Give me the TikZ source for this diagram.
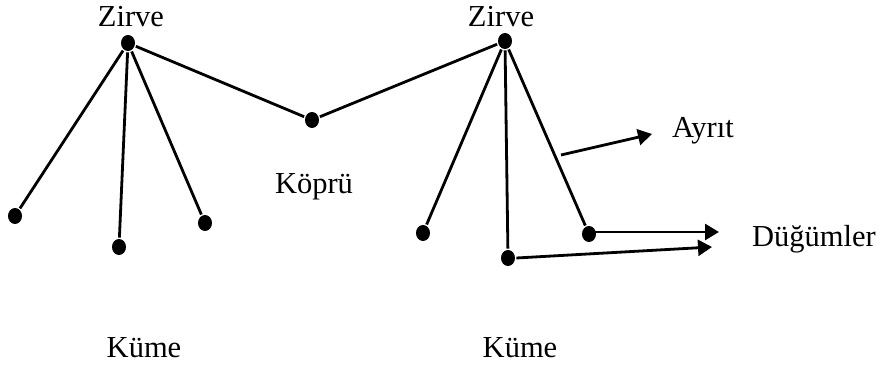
\documentclass[tikz,border=0pt]{standalone}
\usepackage{fontspec}
\setmainfont{Liberation Serif}
\usetikzlibrary{shapes.geometric,arrows.meta}

\begin{document}
\begin{tikzpicture}[x=1pt, y=-1pt, line width=2.8pt,
  dot/.style={ellipse, fill=black, draw=none, minimum width=14pt, minimum height=16pt, inner sep=0pt},
  lbl/.style={anchor=base, inner sep=0pt, font=\fontsize{30.5}{36}\selectfont},
  ok/.style={-{Triangle[length=14pt, width=16pt]}}]
\useasboundingbox (0,0) rectangle (884,369);

% left cluster
\node [dot] (z1) at (128,43) {};
\node [dot] (a1) at (15,216) {};
\node [dot] (a2) at (119,247) {};
\node [dot] (a3) at (205,223) {};

% bridge
\node [dot] (k) at (312,120) {};

% right cluster
\node [dot] (z2) at (505,41) {};
\node [dot] (b1) at (423,233) {};
\node [dot] (b2) at (508,258) {};
\node [dot] (b3) at (589,234) {};

\draw  (z1) edge (a1);
\draw  (z1) edge (a2);
\draw  (z1) edge (a3);
\draw  (z1) edge (k);
\draw  (k) edge (z2);
\draw  (z2) edge (b1);
\draw  (z2) edge (b2);
\draw  (z2) edge (b3);

% pointers
\coordinate (e0) at (561,155);
\coordinate (e1) at (652,134);
\coordinate (d1) at (719,232);
\coordinate (d2) at (712,247);
\draw [ok] (b3.north east |- d1) -- (d1);
\draw [ok] (e0) -- (e1);
\draw [ok] (b2.east) -- (d2);

\node [lbl] (t1) at (131,27) {Zirve};
\node [lbl] (t2) at (501,27) {Zirve};
\node [lbl] (t3) at (314,193) {Köprü};
\node [lbl] (t4) at (703,137) {Ayrıt};
\node [lbl] (t5) at (814,246) {Düğümler};
\node [lbl] (t6) at (144,357) {Küme};
\node [lbl] (t7) at (520,357) {Küme};
\end{tikzpicture}
\end{document}
